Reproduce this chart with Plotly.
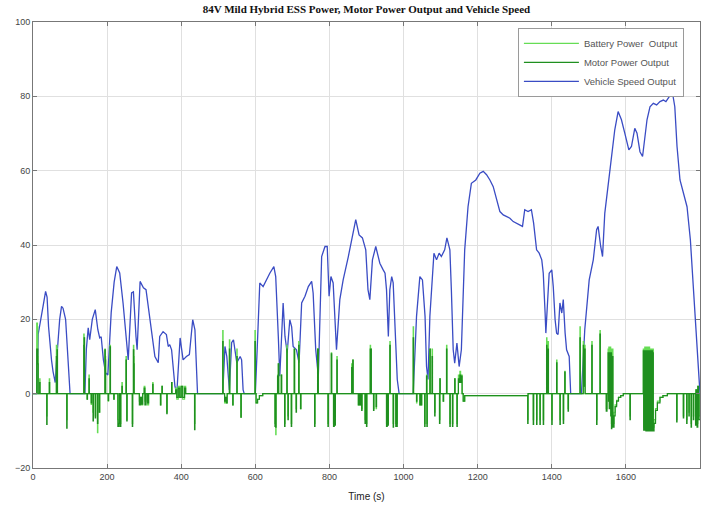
import plotly.graph_objects as go

title_text = "84V Mild Hybrid ESS Power, Motor Power Output and Vehicle Speed"
x_label = "Time (s)"
series_names = ["Battery Power  Output", "Motor Power Output", "Vehicle Speed Output"]
x_ticks = [0, 200, 400, 600, 800, 1000, 1200, 1400, 1600, 1800]
y_ticks = [-20, 0, 20, 40, 60, 80, 100]

# Vehicle speed (time s, speed)
speed_pts = [
    (0, 0), (11, 0), (14, 16), (20, 19), (28, 24), (34, 27.5), (38, 26), (42, 18), (46, 12), (50, 9),
    (54, 6), (58, 4), (60, 3), (63, 8), (67, 14), (72, 20), (77, 23.5), (81, 23), (88, 20), (93, 10), (100, 0),
    (140, 0), (144, 12), (149, 17.7), (153, 14.5), (160, 20), (168, 22.6), (175, 17.2), (180, 15), (184, 15.3),
    (190, 9.1), (196, 5.6), (202, 5), (211, 21.8), (219, 30), (226, 34.2), (234, 32.5), (243, 24.4), (252, 14.5),
    (257, 9.1), (266, 27.1), (271, 27.4), (278, 15.3), (281, 11.8), (289, 30.2), (298, 28.5), (305, 28),
    (311, 23.5), (320, 16.4), (329, 10), (338, 8.3), (342, 15.4), (351, 16.7), (360, 15.9), (365, 12.7),
    (369, 13.2), (374, 11.8), (383, 2), (388, 0), (397, 15), (405, 9.1), (414, 10), (422, 10.5), (431, 19.9),
    (437, 17.2), (442, 3), (444, 0),
    (512, 0), (518, 12.7), (523, 10), (530, 1), (536, 13.7), (541, 14.5), (550, 8.3), (559, 10), (563, 9.1),
    (567, 1), (570, 0),
    (600, 0), (605, 12), (612, 29.8), (621, 28.8), (634, 31.5), (639, 32.4), (650, 34.2), (655, 31.5),
    (662, 15.4), (666, 4.7), (675, 24.4), (680, 15.4), (686, 11), (693, 19.9), (698, 18), (702, 12.7),
    (711, 11.8), (718, 8.3), (725, 24.4), (734, 26.2), (743, 28.8), (752, 30.2), (756, 27.1), (763, 11.8),
    (770, 4.7), (779, 36.9), (788, 39.6), (794, 39.6), (799, 26.2), (804, 31.5), (810, 29.8), (815, 17.2),
    (819, 11.8), (828, 25.3), (837, 30.6), (851, 36.9), (862, 42.3), (871, 46.8), (880, 42.7), (889, 41.9),
    (898, 38.7), (904, 28), (909, 25.3), (916, 36), (925, 39.6), (936, 35.1), (945, 33.3), (950, 32.4),
    (954, 28), (959, 15.4), (963, 28), (968, 31.5), (972, 29.8), (977, 15.4), (983, 3.8), (988, 0),
    (1026, 0), (1035, 20.8), (1044, 31.5), (1051, 30.6), (1058, 20.8), (1062, 7.3), (1066, 3.8), (1071, 20.8),
    (1082, 37.8), (1089, 36), (1096, 37.8), (1102, 36.9), (1111, 38.7), (1117, 41.9), (1125, 38.7), (1129, 28),
    (1134, 11.8), (1138, 8.2), (1144, 13.6), (1150, 7.3), (1156, 11.8), (1165, 38.7), (1174, 50.3),
    (1183, 56.6), (1195, 57.5), (1206, 59.3), (1215, 59.8), (1224, 58.9), (1233, 57.5), (1242, 55.7),
    (1251, 52.2), (1260, 49), (1269, 48.1), (1278, 47.7), (1287, 47.2), (1296, 46.3), (1305, 45.9),
    (1314, 45.4), (1321, 45), (1327, 49.5), (1336, 49), (1345, 49.5), (1351, 45.9), (1359, 38.7),
    (1366, 37.8), (1373, 36), (1377, 32.4), (1382, 21.7), (1384, 16.3), (1388, 23.5), (1393, 32.4),
    (1400, 33.3), (1404, 28.8), (1409, 19.9), (1413, 16.3), (1417, 15.9), (1422, 24.4), (1427, 21.7),
    (1431, 25.3), (1436, 16.3), (1440, 11.8), (1447, 10), (1451, 0),
    (1480, 0), (1489, 17.2), (1501, 30.6), (1512, 36), (1521, 44.1), (1525, 45), (1532, 39.6), (1537, 36.9),
    (1543, 48.5), (1552, 55.7), (1561, 63.8), (1570, 71), (1579, 75.9), (1588, 73.7), (1597, 70.1),
    (1608, 65.6), (1615, 66.5), (1624, 71.4), (1630, 70.1), (1638, 65.1), (1645, 63.8), (1651, 69.2),
    (1657, 73.7), (1665, 77.2), (1674, 78.1), (1683, 77.7), (1692, 78.6), (1701, 79), (1708, 78.6),
    (1717, 79.9), (1726, 80.8), (1732, 77.2), (1738, 66.5), (1746, 57.5), (1755, 54), (1765, 50.3),
    (1774, 41.4), (1781, 30.6), (1789, 19), (1795, 8.2), (1800, 0),
]

# Power (time s, battery, motor)
power_pts = [
    (0, 0, 0), (9, 0, 0), (10, 19, 12), (12, 18, 12), (13, 10, 8), (14, 0, 0), (18, 4, 3), (19, 0, 0),
    (36, 0, 0), (37, -6, -8.3), (38, 0, 0), (43, 0, 0), (44, 4, 3), (45, 0, 0), (62, 0, 0), (63, 13, 10),
    (65, 12, 11.8), (66, 0, 0), (90, 0, 0), (91, -7, -9.3), (92, 0, 0),
    (136, 0, 0), (137, 16, 13), (138, 15, 15), (139, 0, 0), (146, -1.5, -1.5), (147, 0, 0), (151, 5, 4),
    (152, 0, 0), (157, -2.9, -2.5), (158, 0, 0), (162, -5, -7.3), (163, 0, 0), (168, -6, -6.5), (169, 0, 0),
    (174, -10.5, -8), (175, 0, 0), (179, -5, -5), (180, 0, 0), (194, 12, 11.8), (195, 10, 9), (196, 0, 0),
    (203, -2, -1.8), (204, 0, 0), (208, 13, 12.6), (209, 0, 0), (218, -1.5, -1.5), (219, 0, 0),
    (229, -7, -8.8), (231, -8.8, -8), (233, 0, 0), (235, -8, -8.8), (237, 0, 0), (240, 3, 2), (241, 0, 0),
    (251, 10, 9), (252, 0, 0), (253, -7, -7.3), (254, 0, 0), (268, -8, -8.8), (269, 0, 0), (271, 13, 11.8),
    (272, 10, 8), (273, 0, 0), (287, -2, -3), (290, -1, -1), (293, -3, -2.8), (296, 0, 0), (300, 2, 1.5),
    (302, -2, -3), (305, 0, 0), (309, -3, -2.5), (312, 0, 0), (323, 3, 2.5), (324, 0, 0), (344, -3, -3),
    (345, 0, 0), (348, 2, 2), (349, 0, 0), (361, -5, -5.4), (362, 0, 0), (374, 3, 3), (375, 0, 0),
    (385, 1.5, 1), (388, -1.5, -1), (392, 2, 1.5), (396, -1, -1), (400, 2, 2), (404, -1.5, -1), (409, 2, 1.5),
    (412, 0, 0), (436, -8, -9.7), (437, 0, 0),
    (511, 0, 0), (512, 17, 14), (513, 0, 0), (517, -2.5, -2), (519, -1, -1), (522, -2.5, -2.5), (524, 0, 0),
    (530, 14.5, 12), (531, 0, 0), (539, -3, -3), (540, 0, 0), (550, 12, 10), (551, 0, 0), (561, -6.3, -6.3),
    (562, 0, 0),
    (598, 0, 0), (599, 17, 14), (600, 0, 0), (602, -2.5, -2.5), (606, -1.5, -1.5), (611, -0.5, -0.5),
    (620, 0, 0), (652, 0, 0), (653, -8, -8.8), (654, 0, 0), (655, -11, -9), (656, 0, 0), (660, 5, 4.7),
    (662, 8, 8), (663, 0, 0), (670, 5, 5), (671, 0, 0), (679, -8, -8.8), (680, 0, 0), (685, 13, 12),
    (686, 0, 0), (688, -6, -7), (689, 0, 0), (697, -8, -8.8), (698, 0, 0), (705, 12, 12), (706, 0, 0),
    (710, -4, -5), (711, 0, 0), (717, 14, 13), (718, 0, 0), (722, -4, -4), (723, 0, 0), (760, -8, -8.8),
    (761, 0, 0), (768, 12, 12), (770, 0, 0), (796, -8, -8.8), (797, 0, 0), (805, 11, 10.7), (806, 0, 0),
    (811, -8, -8.8), (813, 0, 0), (815, -8, -8.5), (816, 0, 0), (820, 10, 9), (821, 0, 0), (860, 8, 7),
    (861, 0, 0), (863, 9, 9), (864, 0, 0), (878, -3, -3), (880, 0, 0), (883, -3, -3), (884, 0, 0),
    (887, -4, -4.5), (888, 0, 0), (896, -7, -8), (897, 0, 0), (900, -8, -8.8), (901, 0, 0), (910, 13, 12),
    (911, 12, 12), (913, 0, 0), (919, -4, -4.5), (920, 0, 0), (926, -4, -3.5), (927, 0, 0), (954, -8, -8.8),
    (956, 0, 0), (958, -8, -8.5), (959, 0, 0), (963, 14, 13), (964, 0, 0), (972, -8, -9), (973, 0, 0),
    (979, -8, -8.8), (980, 0, 0), (982, -8, -8.8), (983, 0, 0),
    (1025, 0, 0), (1026, 18, 15), (1027, 0, 0), (1035, -2.5, -2), (1036, 0, 0), (1044, -3, -3), (1046, 0, 0),
    (1048, -3, -3), (1049, 0, 0), (1057, -8, -8.8), (1058, 0, 0), (1062, 5, 4.7), (1063, -8, -8.8),
    (1064, 0, 0), (1071, 12, 12), (1072, 0, 0), (1077, 12, 10), (1078, 0, 0), (1084, -5, -6), (1085, 0, 0),
    (1097, -7, -8), (1098, 4, 4), (1099, 0, 0), (1107, -2, -2), (1108, 0, 0), (1116, 13, 12), (1117, 0, 0),
    (1125, -8, -8.8), (1126, 0, 0), (1132, -8, -8.8), (1133, 0, 0), (1138, 4, 4), (1139, 0, 0),
    (1144, -8, -8.8), (1145, 0, 0), (1148, 5, 4), (1150, 3, 3), (1152, 6, 5), (1154, 3, 3), (1156, 5, 4.7),
    (1158, 0, 0), (1161, -2, -2), (1165, -0.5, -0.5), (1334, -0.5, -0.5), (1335, -7, -8), (1336, 0, 0),
    (1349, 0, 0), (1350, -7, -8.3), (1351, 0, 0), (1358, 0, 0), (1359, -7, -8.3), (1360, 0, 0),
    (1367, 0, 0), (1368, -7, -8.3), (1369, 0, 0), (1376, 0, 0), (1377, -7, -8.3), (1378, 0, 0),
    (1385, 0, 0), (1386, 15, 13), (1387, 0, 0), (1389, 0, 0), (1390, 14, 12), (1391, 0, 0), (1399, 0, 0),
    (1400, -7, -8.3), (1401, 0, 0), (1412, 0, 0), (1413, 9, 8.3), (1414, 0, 0), (1421, 0, 0),
    (1422, -7, -8.3), (1423, 0, 0), (1430, 0, 0), (1431, -7, -8), (1432, 0, 0), (1434, 0, 0), (1435, 6, 5.8),
    (1436, 0, 0), (1443, 0, 0), (1444, -4, -4.7), (1445, 0, 0),
    (1475, 0, 0), (1476, 18, 15), (1477, 0, 0), (1484, 0, 0), (1485, 14, 13), (1486, 2, 2), (1487, 13, 12),
    (1488, 2, 2), (1489, 13, 12), (1490, 0, 0), (1507, 0, 0), (1508, 14, 13), (1509, 0, 0), (1520, 0, 0),
    (1521, -7, -8.3), (1522, 0, 0), (1529, 0, 0), (1530, 17, 16), (1531, 0, 0), (1547, -4, -4.7),
    (1549, 0, 0), (1552, 12, 11), (1553, 0, -2), (1554, 12.5, 11), (1555, -2, -4), (1556, 12, 11),
    (1557, 0, -3), (1558, 12.5, 11), (1559, -3, -6), (1560, 12, 11), (1561, -8, -9.4), (1562, 12, 10),
    (1563, -7, -9), (1564, 12, 10), (1565, -6, -8), (1566, -8, -9), (1568, -5, -6), (1571, -3, -3.5),
    (1575, -1.8, -2), (1580, -1, -1), (1586, -0.5, -0.5), (1593, 0, 0), (1610, 0, 0), (1611, -6, -7),
    (1612, 0, 0), (1646, 0, 0), (1647, 12, 11.5), (1648, -9, -9.8), (1649, 12, 11.5), (1650, -9, -9.8),
    (1651, 12.5, 11.5), (1652, -9, -9.8), (1653, 12, 11.5), (1654, -9, -10), (1655, 12.5, 11.5),
    (1656, -9, -9.8), (1657, 12, 11.5), (1658, -9, -10), (1659, 12.5, 11.5), (1660, -9, -9.8),
    (1661, 12, 11.5), (1662, -9, -10), (1663, 12.5, 11.5), (1664, -9, -9.8), (1665, 12, 11.5),
    (1666, -9, -10), (1667, 12, 11.5), (1668, -9, -9.8), (1669, 12, 11.5), (1670, -9, -10),
    (1671, 12, 11.5), (1672, -9, -9.8), (1673, 12, 11), (1674, -9, -10), (1676, -7, -8), (1680, -4, -4.5),
    (1685, -2, -2.5), (1692, -1, -1), (1700, -0.5, -0.5), (1712, 0, 0), (1736, 0, 0), (1737, -7, -7.6),
    (1738, 0, 0), (1754, 0, 0), (1755, -6, -6.5), (1756, 0, 0), (1763, 0, 0), (1764, -7, -8), (1765, 0, 0),
    (1770, -5, -6), (1771, 0, 0), (1776, -8, -9), (1777, 0, 0), (1782, -6, -7), (1783, 0, 0),
    (1788, -7, -8.5), (1789, 1, 1), (1792, -8, -9), (1794, 2, 2), (1796, -6, -7), (1800, 0, 0),
]

colors = {"battery": "#66dd55", "motor": "#1f8f1f", "speed": "#3a4cc4"}
axis_font = dict(family="Liberation Sans Narrow, Liberation Sans, Arial", size=9, color="#444444")

st = [p[0] for p in speed_pts]
sv = [p[1] for p in speed_pts]
pt = [p[0] for p in power_pts]
pb = [p[1] for p in power_pts]
pm = [p[2] for p in power_pts]

fig = go.Figure()
fig.add_trace(go.Scatter(x=st, y=sv, mode="lines", name=series_names[2],
                         line=dict(color=colors["speed"], width=1.3), legendrank=3))
fig.add_trace(go.Scatter(x=pt, y=pb, mode="lines", name=series_names[0],
                         line=dict(color=colors["battery"], width=1.2, shape="hv"), legendrank=1))
fig.add_trace(go.Scatter(x=pt, y=pm, mode="lines", name=series_names[1],
                         line=dict(color=colors["motor"], width=1.2, shape="hv"), legendrank=2))

fig.update_layout(
    width=702, height=505,
    margin=dict(l=33, r=2, t=22, b=37),
    paper_bgcolor="white", plot_bgcolor="white",
    showlegend=True,
    legend=dict(x=0.727, y=0.987, xanchor="left", yanchor="top",
                bgcolor="white", bordercolor="#9a9a9a", borderwidth=1,
                itemwidth=55, entrywidth=120, entrywidthmode="pixels",
                font=dict(family="Liberation Sans Narrow, Liberation Sans, Arial", size=9.5, color="#555555"),
                tracegroupgap=0),
    title=dict(text="<b>" + title_text + "</b>", x=0.522, xanchor="center", y=0.981, yanchor="middle",
               font=dict(family="Liberation Serif, Times New Roman, serif", size=11, color="#111111")),
)
fig.update_xaxes(range=[0, 1800], tickvals=x_ticks, ticks="inside", ticklen=4, tickcolor="#777777",
                 showgrid=True, gridcolor="#e0e0e0", gridwidth=1, zeroline=False,
                 showline=True, linecolor="#777777", linewidth=1, mirror="ticks",
                 tickfont=axis_font,
                 title=dict(text=x_label, standoff=12,
                            font=dict(family="Liberation Sans Narrow, Liberation Sans, Arial", size=10, color="#222222")))
fig.update_yaxes(range=[-20, 100], tickvals=y_ticks, ticks="inside", ticklen=4, tickcolor="#777777",
                 showgrid=True, gridcolor="#e0e0e0", gridwidth=1, zeroline=False,
                 showline=True, linecolor="#777777", linewidth=1, mirror="ticks",
                 tickfont=axis_font)

fig.write_html("out.html")
